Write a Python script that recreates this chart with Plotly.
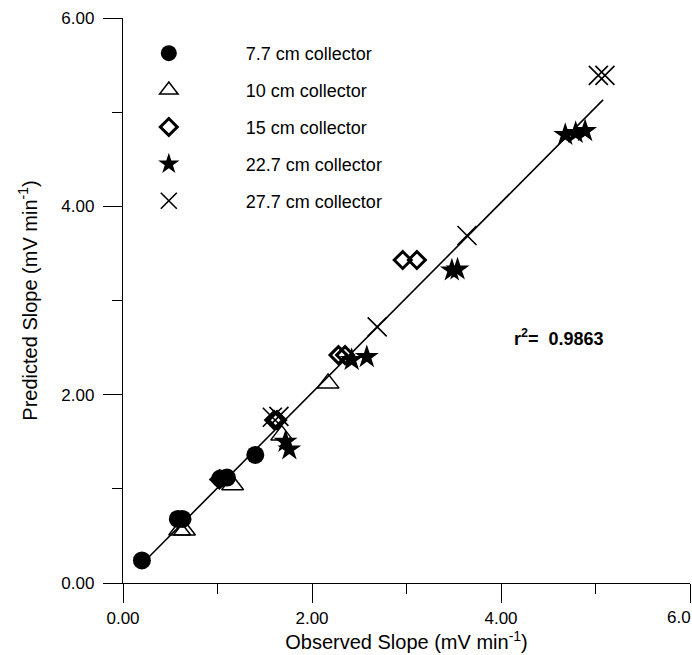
import plotly.graph_objects as go

# ---- data ----
names = ["7.7 cm collector", "10 cm collector", "15 cm collector",
         "22.7 cm collector", "27.7 cm collector"]

obs_77 = [0.20, 0.58, 0.63, 1.03, 1.10, 1.40]
pred_77 = [0.24, 0.68, 0.68, 1.11, 1.12, 1.36]

obs_10 = [0.60, 0.65, 1.16, 1.68, 2.17]
pred_10 = [0.56, 0.56, 1.04, 1.57, 2.12]

obs_15 = [1.02, 1.60, 1.63, 2.28, 2.35, 2.96, 3.11]
pred_15 = [1.10, 1.73, 1.73, 2.42, 2.42, 3.43, 3.43]

obs_227 = [1.72, 1.76, 2.42, 2.58, 3.48, 3.54, 4.68, 4.79, 4.89]
pred_227 = [1.50, 1.42, 2.37, 2.40, 3.32, 3.33, 4.76, 4.78, 4.80]

obs_277 = [1.58, 1.65, 2.69, 3.64, 5.03, 5.10]
pred_277 = [1.76, 1.77, 2.72, 3.69, 5.39, 5.39]

fit_x = [0.20, 5.08]
fit_slope = 1.01
fit_intercept = 0.0
fit_y = [fit_slope * v + fit_intercept for v in fit_x]

r2_text = "r<sup>2</sup>= \u00a00.9863"

x_ticks = [0, 2, 4, 6]
x_ticktext = ["0.00", "2.00", "4.00", " "]
x_last_label = "6.0"
y_ticks = [0, 2, 4, 6]
y_ticktext = ["0.00", "2.00", "4.00", "6.00"]

FONT = "Arial, Liberation Sans, sans-serif"

fig = go.Figure()

fig.add_trace(go.Scatter(x=fit_x, y=fit_y, mode="lines",
                         line=dict(color="black", width=1.6),
                         showlegend=False, hoverinfo="skip"))

styles = [
    dict(symbol="circle", size=18, color="black", line=dict(width=0)),
    dict(symbol="triangle-up-open", size=19, color="black", line=dict(width=1.5, color="black")),
    dict(symbol="diamond-open", size=13, color="black", line=dict(width=3, color="black")),
    dict(symbol="star", size=18, color="black", line=dict(width=0)),
    dict(symbol="x-thin-open", size=19, color="black", line=dict(width=1.6, color="black")),
]
series = [(obs_77, pred_77), (obs_10, pred_10), (obs_15, pred_15),
          (obs_227, pred_227), (obs_277, pred_277)]

for i, ((xs, ys), nm, st) in enumerate(zip(series, names, styles)):
    fig.add_trace(go.Scatter(x=xs, y=ys, mode="markers", name=nm,
                             marker=st, legendgroup=str(i)))

fig.add_annotation(x=4.12, y=2.61, xref="x", yref="y", text=r2_text,
                   showarrow=False, xanchor="left", yanchor="middle",
                   font=dict(family=FONT, size=18, color="black", weight="bold"))

fig.add_annotation(x=1, y=0, xref="paper", yref="paper", text=x_last_label,
                   showarrow=False, xanchor="right", yanchor="middle",
                   xshift=3, yshift=-34,
                   font=dict(family=FONT, size=17, color="black"))

axis_common = dict(showline=True, linecolor="black", linewidth=1.3,
                   ticks="outside", ticklen=19, tickwidth=1.3, tickcolor="black",
                   showgrid=False, zeroline=False, mirror=False,
                   tickfont=dict(family=FONT, size=17, color="black"),
                   minor=dict(ticks="outside", ticklen=10, tickwidth=1.3,
                              tickcolor="black", dtick=1, showgrid=False))

fig.update_xaxes(range=[0, 6], tickvals=x_ticks, ticktext=x_ticktext,
                 title=dict(text="Observed Slope (mV min<sup>-1</sup>)",
                            font=dict(family=FONT, size=20, color="black"),
                            standoff=5),
                 ticklabelstandoff=0,
                 **axis_common)
fig.update_yaxes(range=[0, 6], tickvals=y_ticks, ticktext=y_ticktext,
                 title=dict(text="Predicted Slope (mV min<sup>-1</sup>)",
                            font=dict(family=FONT, size=20, color="black"),
                            standoff=18),
                 ticklabelstandoff=5,
                 **axis_common)

fig.update_layout(
    width=692, height=655,
    margin=dict(l=123, r=2, t=18, b=72, pad=0),
    paper_bgcolor="white", plot_bgcolor="white",
    font=dict(family=FONT, size=17, color="black"),
    showlegend=True,
    legend=dict(x=-0.055, y=0.97, xanchor="left", yanchor="top",
                itemwidth=144, tracegroupgap=10.5,
                font=dict(family=FONT, size=18, color="black"),
                bgcolor="rgba(0,0,0,0)", borderwidth=0),
)

fig.write_html("out.html")
